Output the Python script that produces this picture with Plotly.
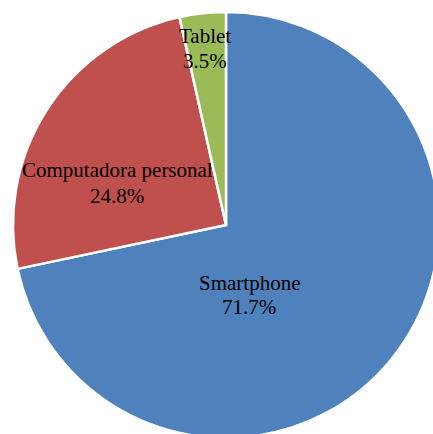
import plotly.graph_objects as go

# ---- data ----
labels = ["Smartphone", "Computadora personal", "Tablet"]
values = [71.7, 24.8, 3.5]
colors = ["#4F81BD", "#C0504D", "#9BBB59"]

# ---- layout (pixels) ----
ML, MT = 13, 12          # pie bounding box offset
R = 213                  # pie radius in px
W, H = ML + 2 * R, MT + 2 * R
CX, CY = ML + R, MT + R

# label placement: (dx, dy_line1, dy_line2) offsets from pie centre in px
label_offsets = [(23, 58, 82), (-109, -55, -29), (-21, -189, -164)]
FONT = dict(family="Liberation Serif", size=21, color="black")

fig = go.Figure(
    go.Pie(
        labels=labels,
        values=values,
        sort=False,
        direction="clockwise",
        rotation=0,
        marker=dict(colors=colors, line=dict(color="white", width=2.5)),
        textinfo="none",
        hoverinfo="label+percent",
        showlegend=False,
    )
)

total = sum(values)


def to_paper(px, py):
    return (px - ML) / (2 * R), 1 - (py - MT) / (2 * R)


annotations = []
for lab, val, (dx, dy1, dy2) in zip(labels, values, label_offsets):
    pct = f"{val / total * 100:.1f}%"
    for txt, dy in ((lab, dy1), (pct, dy2)):
        x, y = to_paper(CX + dx, CY + dy)
        annotations.append(
            dict(
                text=txt, x=x, y=y, xref="paper", yref="paper",
                xanchor="center", yanchor="middle", showarrow=False, font=FONT,
            )
        )

fig.update_layout(
    width=W,
    height=H,
    margin=dict(l=ML, r=0, t=MT, b=0, pad=0),
    paper_bgcolor="white",
    plot_bgcolor="white",
    annotations=annotations,
)

fig.write_html(
    "out.html",
    config={"displayModeBar": False},
    post_script="document.body.style.margin='0';document.body.style.overflow='hidden';",
)
